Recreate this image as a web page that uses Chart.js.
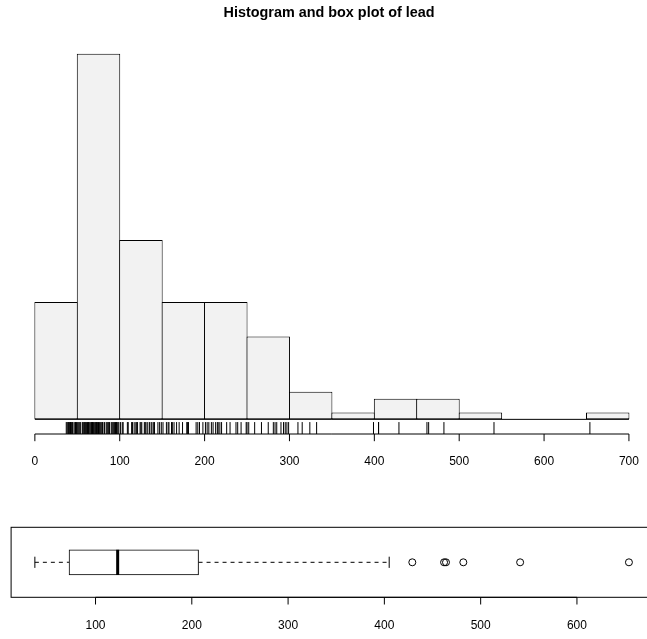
<!DOCTYPE html>
<html><head><meta charset="utf-8">
<script src="https://cdn.jsdelivr.net/npm/chart.js@4.4.1/dist/chart.umd.min.js"></script>
<style>
html,body{margin:0;padding:0;background:#fff;overflow:hidden}
#wrap{position:relative;width:647px;height:639px;background:#fff}
canvas{position:absolute;left:0}
#c1{top:0}
#c2{top:480px}
</style></head><body>
<div id="wrap"><canvas id="c1" width="647" height="480"></canvas><canvas id="c2" width="647" height="159"></canvas></div>
<script>
// ---- data ----
const titleText = 'Histogram and box plot of lead';
const breaks = [0, 50, 100, 150, 200, 250, 300, 350, 400, 450, 500, 550, 600, 650, 700];
const counts = [17, 53, 26, 17, 17, 12, 4, 1, 3, 3, 1, 0, 0, 1];
const histTicks = [0, 100, 200, 300, 400, 500, 600, 700];
const leadValues = [
  37, 38, 39, 40, 40, 41, 42, 42, 43, 44, 44, 45, 47, 48, 48, 49, 50,
  51, 52, 53, 54, 56, 57, 58, 59, 59, 60, 61, 62, 63, 63, 64, 65, 66, 67, 67, 68,
  68, 69, 70, 71, 72, 72, 73, 73, 74, 75, 76, 77, 78, 79, 80, 80, 82, 84, 85, 86,
  87, 88, 90, 91, 92, 93, 94, 95, 96, 96, 97, 98, 99,
  101, 103, 104, 109, 110, 114, 115, 117, 119, 120, 121, 124, 125, 126, 129, 130,
  131, 133, 135, 137, 138, 140, 141, 145, 147, 149,
  151, 155, 157, 158, 161, 162, 164, 167, 170, 174, 179, 180, 181, 190, 192, 194, 198,
  201, 203, 205, 208, 210, 213, 215, 216, 218, 220, 226, 230, 237, 239, 243, 249, 250,
  252, 259, 267, 275, 281, 283, 285, 290, 293, 295, 297, 299,
  310, 315, 324, 332, 399, 405, 405, 429, 462, 464, 482, 541, 654
];
const boxStats = [37, 72.5, 123, 207, 405]; // lower whisker, Q1, median, Q3, upper whisker
const outliers = [429, 462, 464, 482, 541, 654];
const boxTicks = [100, 200, 300, 400, 500, 600];

// ---- common style ----
const FONT = '"Liberation Sans", Arial, Helvetica, sans-serif';
const CANVAS_W = 647;
const PAD_L = 11.1;          // plot region left edge
const OVERFLOW_R = 5.7;      // plot region extends this far past the canvas edge
const TICK_LEN = 7.2, LABEL_OFF = 28;

// visible part of an R-style (4% extended) range, cropped at the canvas edge
function visibleRange(lo, hi) {
  const ext = 0.04 * (hi - lo);
  const min = lo - ext, max = hi + ext;
  const fullW = CANVAS_W - PAD_L + OVERFLOW_R;
  return {min, max: min + (max - min) * (fullW - OVERFLOW_R) / fullW};
}

function drawAxis(chart, ticks, yPix) {
  const {ctx, scales: {x}} = chart;
  ctx.save();
  ctx.strokeStyle = '#000'; ctx.lineWidth = 1;
  ctx.beginPath();
  ctx.moveTo(x.getPixelForValue(ticks[0]), yPix);
  ctx.lineTo(x.getPixelForValue(ticks[ticks.length - 1]), yPix);
  ticks.forEach(t => { const p = x.getPixelForValue(t); ctx.moveTo(p, yPix); ctx.lineTo(p, yPix + TICK_LEN); });
  ctx.stroke();
  ctx.fillStyle = '#000'; ctx.font = '12px ' + FONT;
  ctx.textAlign = 'center'; ctx.textBaseline = 'middle';
  ticks.forEach(t => ctx.fillText(String(t), x.getPixelForValue(t), yPix + LABEL_OFF));
  ctx.restore();
}

// ---- histogram ----
const histX = visibleRange(breaks[0], breaks[breaks.length - 1]);
const yTop = Math.max(...counts);
const yExt = 0.04 * yTop;
const histY0 = -yExt, histY1 = yTop + yExt;
const binData = counts.map((c, i) => ({x: (breaks[i] + breaks[i + 1]) / 2, y: c}));
const rugY = histY0 + 0.015 * (histY1 - histY0);
const rugData = leadValues.map(v => ({x: v, y: rugY}));

const histPlugin = {
  id: 'histAxis',
  afterDraw(chart) {
    const {ctx, scales: {x, y}, chartArea} = chart;
    ctx.save();
    ctx.strokeStyle = '#000'; ctx.lineWidth = 1;
    const y0 = y.getPixelForValue(0);
    ctx.beginPath();
    ctx.moveTo(x.getPixelForValue(breaks[0]), y0);
    ctx.lineTo(x.getPixelForValue(breaks[breaks.length - 1]), y0);
    ctx.stroke();
    ctx.restore();
    drawAxis(chart, histTicks, chartArea.bottom);
  }
};

new Chart(document.getElementById('c1'), {
  type: 'bar',
  data: {
    datasets: [
      {type: 'scatter', data: rugData, pointStyle: 'line', rotation: 90, pointRadius: 6,
       borderColor: '#000', borderWidth: 1, pointHoverRadius: 6},
      {type: 'bar', data: binData, backgroundColor: '#f2f2f2', borderColor: '#000', borderWidth: 1,
       borderSkipped: false, categoryPercentage: 1, barPercentage: 1.0236}
    ]
  },
  options: {
    responsive: false, animation: false, devicePixelRatio: 1,
    layout: {autoPadding: false, padding: {left: PAD_L, right: 0, top: 0, bottom: 46}},
    plugins: {
      legend: {display: false}, tooltip: {enabled: false},
      title: {display: true, text: titleText, color: '#000',
              font: {family: FONT, size: 14.4, weight: 'bold', lineHeight: 1.2},
              padding: {top: 4, bottom: 17.72}}
    },
    scales: {
      x: {type: 'linear', display: false, offset: false, min: histX.min, max: histX.max, grid: {offset: false}},
      y: {type: 'linear', display: false, min: histY0, max: histY1}
    }
  },
  plugins: [histPlugin]
});

// ---- box plot ----
const boxX = visibleRange(boxStats[0], Math.max(boxStats[4], ...outliers));
const boxPlugin = {
  id: 'boxFrame',
  afterDraw(chart) {
    const {ctx, chartArea} = chart;
    ctx.save();
    ctx.strokeStyle = '#000'; ctx.lineWidth = 1;
    ctx.strokeRect(chartArea.left, chartArea.top, chartArea.right - chartArea.left + 2 * OVERFLOW_R, chartArea.bottom - chartArea.top);
    ctx.restore();
    drawAxis(chart, boxTicks, chartArea.bottom);
  }
};

new Chart(document.getElementById('c2'), {
  type: 'scatter',
  data: {
    datasets: [
      {label: 'median', data: [{x: boxStats[2], y: 1}], pointStyle: 'line', rotation: 90,
       pointRadius: 12.6, borderColor: '#000', borderWidth: 3},
      {label: 'staples', data: [{x: boxStats[0], y: 1}, {x: boxStats[4], y: 1}], pointStyle: 'line', rotation: 90,
       pointRadius: 5.6, borderColor: '#000', borderWidth: 1},
      {label: 'outliers', data: outliers.map(v => ({x: v, y: 1})), pointStyle: 'circle', pointRadius: 3.5,
       borderColor: '#000', backgroundColor: 'rgba(0,0,0,0)', borderWidth: 1},
      {type: 'line', label: 'lower whisker', data: [{x: boxStats[0], y: 1}, {x: boxStats[1], y: 1}],
       borderColor: '#000', borderWidth: 1, borderDash: [4, 4], pointRadius: 0},
      {type: 'line', label: 'upper whisker', data: [{x: boxStats[3], y: 1}, {x: boxStats[4], y: 1}],
       borderColor: '#000', borderWidth: 1, borderDash: [4, 4], pointRadius: 0},
      {type: 'bar', label: 'box', indexAxis: 'y', data: [{x: [boxStats[1], boxStats[3]], y: 1}],
       backgroundColor: '#fff', borderColor: '#000', borderWidth: 1, borderSkipped: false, barThickness: 25}
    ]
  },
  options: {
    responsive: false, animation: false, devicePixelRatio: 1,
    layout: {autoPadding: false, padding: {left: PAD_L, right: 0, top: 47.3, bottom: 41.7}},
    plugins: {legend: {display: false}, tooltip: {enabled: false}, title: {display: false}},
    scales: {
      x: {type: 'linear', display: false, offset: false, min: boxX.min, max: boxX.max},
      y: {type: 'linear', display: false, offset: false, min: 0.46, max: 1.54}
    }
  },
  plugins: [boxPlugin]
});
</script>
</body></html>
